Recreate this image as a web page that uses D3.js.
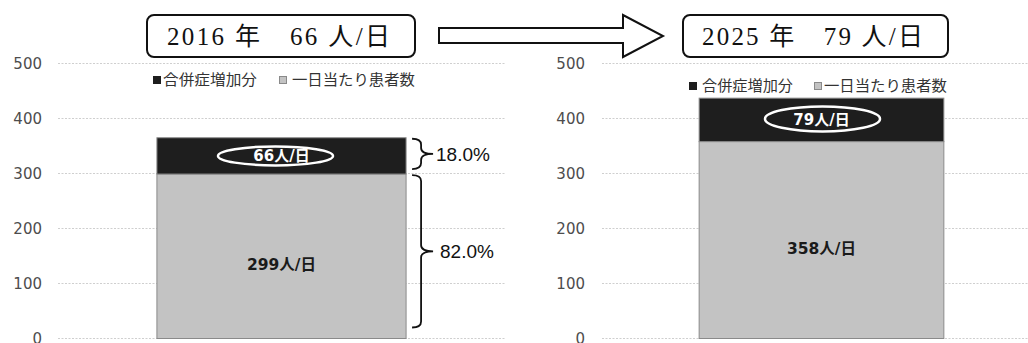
<!DOCTYPE html>
<html>
<head>
<meta charset="utf-8">
<script src="https://cdn.jsdelivr.net/npm/d3@7"></script>
<style>
  html, body { margin: 0; padding: 0; background: #fff; }
  svg { display: block; }
</style>
</head>
<body>
<svg id="chart" width="1028" height="343"></svg>
<script>
// Patients per day: base count and the added share from complications
const years = ["2016年", "2025年"];
const baseValues = [299, 358];
const extraValues = [66, 79];
const titleLabels = ["2016 年　66 人/日", "2025 年　79 人/日"];
const yTicks = [0, 100, 200, 300, 400, 500];
const legendLabels = ["合併症増加分", "一日当たり患者数"];
const shareLabels = ["18.0%", "82.0%"];

const svg = d3.select("#chart");
const tickFont = "'DejaVu Sans', Verdana, sans-serif";
const cjkFont = "'Noto Sans CJK JP', 'Noto Sans', sans-serif";
const labelFont = "'DejaVu Sans', 'Noto Sans CJK JP', sans-serif";
const titleFont = "'Liberation Serif', 'Noto Sans CJK JP', serif";

const y = d3.scaleLinear().domain([0, 500]).range([338.5, 63.5]);

// panel geometry
const panels = [
  { plot: [58, 505], tickX: 42, box: [147, 415], titleText: [167, 390],
    legendY: 80, legend: { sq1: 153, t1: [163, 257], sq2: 279, t2: [292, 415] },
    ellipse: { dx: -6, ry: 9.5, rx: 57.5, dy: 0 } },
  { plot: [602, 1041], tickX: 585, box: [683, 948], titleText: [702, 923],
    legendY: 86, legend: { sq1: 689, t1: [702, 793], sq2: 814, t2: [824, 947] },
    ellipse: { dx: 1, ry: 12.5, rx: 57.5, dy: -1 } }
];

panels.forEach((p, i) => {
  const g = svg.append("g");
  const x = d3.scaleBand().domain([years[i]]).range(p.plot)
    .paddingInner(0).paddingOuter(0.397);

  // gridlines
  g.selectAll("line.grid").data(yTicks).join("line")
    .attr("x1", p.plot[0]).attr("x2", Math.min(p.plot[1], 1028))
    .attr("y1", d => y(d)).attr("y2", d => y(d))
    .attr("stroke", "#cfcfcf").attr("stroke-width", 1)
    .attr("stroke-dasharray", "2,1.5");

  // tick labels
  g.selectAll("text.tick").data(yTicks).join("text")
    .attr("x", p.tickX).attr("y", d => y(d))
    .attr("dy", "0.36em").attr("text-anchor", "end")
    .attr("font-family", tickFont).attr("font-size", 15)
    .attr("fill", "#4d4d4d").text(d => d);

  const bx = x(years[i]), bw = x.bandwidth();
  const base = baseValues[i], extra = extraValues[i];

  // stacked bar: base (gray) and complication increase (black)
  g.append("rect")
    .attr("x", bx).attr("y", y(base)).attr("width", bw)
    .attr("height", y(0) - y(base))
    .attr("fill", "#c3c3c3").attr("stroke", "#8a8a8a").attr("stroke-width", 1);
  g.append("rect")
    .attr("x", bx).attr("y", y(base + extra)).attr("width", bw)
    .attr("height", y(base) - y(base + extra))
    .attr("fill", "#1e1e1e").attr("stroke", "#8a8a8a").attr("stroke-width", 1);

  const cx = bx + bw / 2;
  const topMid = (y(base) + y(base + extra)) / 2;

  // highlight ellipse around the increase label
  g.append("ellipse")
    .attr("cx", cx + p.ellipse.dx).attr("cy", topMid + p.ellipse.dy)
    .attr("rx", p.ellipse.rx).attr("ry", p.ellipse.ry)
    .attr("fill", "none").attr("stroke", "#fff").attr("stroke-width", 2.5);

  g.append("text")
    .attr("x", cx).attr("y", topMid).attr("dy", "0.36em")
    .attr("text-anchor", "middle")
    .attr("font-family", labelFont).attr("font-weight", "bold")
    .attr("font-size", 15).attr("fill", "#fff")
    .text(extra + "人/日");

  g.append("text")
    .attr("x", cx).attr("y", y(base / 2) + 8).attr("dy", "0.36em")
    .attr("text-anchor", "middle")
    .attr("font-family", labelFont).attr("font-weight", "bold")
    .attr("font-size", 15.5).attr("fill", "#1a1a1a")
    .text(base + "人/日");

  // legend
  const L = p.legend;
  g.append("rect").attr("x", L.sq1).attr("y", p.legendY - 4).attr("width", 8).attr("height", 8)
    .attr("fill", "#1e1e1e");
  g.append("text").attr("x", L.t1[0]).attr("y", p.legendY).attr("dy", "0.36em")
    .attr("font-family", cjkFont).attr("font-size", 15).attr("fill", "#333")
    .attr("textLength", L.t1[1] - L.t1[0]).attr("lengthAdjust", "spacingAndGlyphs")
    .text(legendLabels[0]);
  g.append("rect").attr("x", L.sq2 + 0.5).attr("y", p.legendY - 3.5).attr("width", 7).attr("height", 7)
    .attr("fill", "#c3c3c3").attr("stroke", "#8a8a8a").attr("stroke-width", 1);
  g.append("text").attr("x", L.t2[0]).attr("y", p.legendY).attr("dy", "0.36em")
    .attr("font-family", cjkFont).attr("font-size", 15).attr("fill", "#333")
    .attr("textLength", L.t2[1] - L.t2[0]).attr("lengthAdjust", "spacingAndGlyphs")
    .text(legendLabels[1]);

  // title box
  g.append("rect")
    .attr("x", p.box[0]).attr("y", 15).attr("width", p.box[1] - p.box[0]).attr("height", 42)
    .attr("rx", 7).attr("fill", "#fff").attr("stroke", "#111").attr("stroke-width", 2);
  g.append("text")
    .attr("x", p.titleText[0]).attr("y", 45)
    .attr("font-family", titleFont).attr("font-size", 25).attr("fill", "#111")
    .attr("textLength", p.titleText[1] - p.titleText[0]).attr("lengthAdjust", "spacing")
    .text(titleLabels[i]);

  // share braces for the first year
  if (i === 0) {
    const bRight = bx + bw;
    const brace = (x0, xm, xt, y0, y1, r) => {
      const ym = (y0 + y1) / 2;
      return `M${x0},${y0} Q${xm},${y0} ${xm},${y0 + r} L${xm},${ym - r} Q${xm},${ym} ${xt},${ym}` +
             ` Q${xm},${ym} ${xm},${ym + r} L${xm},${y1 - r} Q${xm},${y1} ${x0},${y1}`;
    };
    const segs = [
      { y0: y(base + extra) + 1, y1: y(base) - 5, lx: 436 },
      { y0: y(base) + 1, y1: y(0) - 11, lx: 440 }
    ];
    segs.forEach((s, k) => {
      g.append("path")
        .attr("d", brace(bRight + 6, bRight + 15, bRight + 27, s.y0, s.y1, 6))
        .attr("fill", "none").attr("stroke", "#111").attr("stroke-width", 1.8);
      g.append("text")
        .attr("x", s.lx).attr("y", (s.y0 + s.y1) / 2).attr("dy", "0.36em")
        .attr("font-family", "'Liberation Sans', Arial, sans-serif")
        .attr("font-size", 19).attr("fill", "#111")
        .text(shareLabels[k]);
    });
  }
});

// arrow between the two years
const arrow = d3.path();
arrow.moveTo(439, 28);
arrow.lineTo(623, 28);
arrow.lineTo(623, 15);
arrow.lineTo(663, 36);
arrow.lineTo(623, 57);
arrow.lineTo(623, 43);
arrow.lineTo(439, 43);
arrow.closePath();
svg.append("path").attr("d", arrow.toString())
  .attr("fill", "#fff").attr("stroke", "#111").attr("stroke-width", 2)
  .attr("stroke-linejoin", "miter");
</script>
</body>
</html>
